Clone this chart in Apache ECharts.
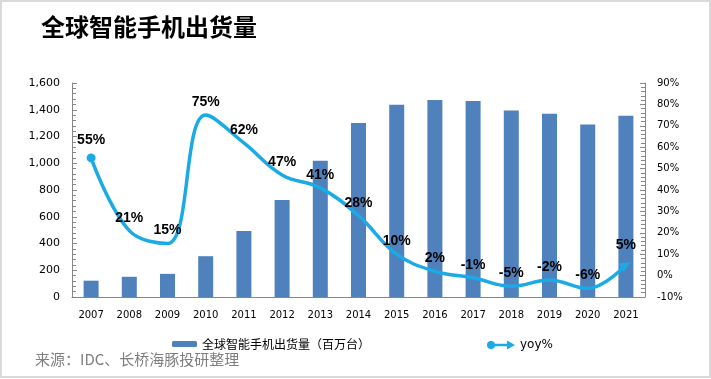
<!DOCTYPE html>
<html>
<head>
<meta charset="utf-8">
<script src="https://cdn.jsdelivr.net/npm/echarts@6/dist/echarts.min.js"></script>
<style>html,body{margin:0;padding:0;background:#fff;}#c{width:711px;height:379px;}</style>
</head>
<body>
<div id="c"></div>
<script>
var years = ['2007','2008','2009','2010','2011','2012','2013','2014','2015','2016','2017','2018','2019','2020','2021'];
var shipments = [122, 151, 173, 305, 494, 725, 1019, 1301, 1437, 1473, 1465, 1395, 1371, 1290, 1355];
var yoy = [55, 21, 15, 75, 62, 47, 41, 28, 10, 2, -1, -5, -2, -6, 5];
var barName = '全球智能手机出货量（百万台）';
var lineName = 'yoy%';
var titleText = '全球智能手机出货量';
var sourceText = '来源：IDC、长桥海豚投研整理';

var lineData = yoy.map(function (v, i) {
  if (i === 0) return { value: v, symbol: 'circle', symbolSize: 9 };
  if (i === yoy.length - 1) return { value: v, symbol: 'triangle', symbolSize: [10, 11], symbolRotate: -60 };
  return { value: v, symbol: 'circle', symbolSize: 0 };
});

var chart = echarts.init(document.getElementById('c'));
var axisColor = '#868686';
var option = {
  animation: false,
  backgroundColor: '#fff',
  textStyle: { fontFamily: 'DejaVu Sans' },
  title: {
    text: titleText, left: 41, top: 15, padding: 0,
    textStyle: { fontFamily: 'Noto Sans CJK SC', fontSize: 24, fontWeight: 'bold', color: '#000' }
  },
  graphic: [
    { type: 'rect', shape: { x: 1, y: 1, width: 709, height: 376 }, style: { fill: 'none', stroke: '#d9d9d9', lineWidth: 2 }, silent: true },
    { type: 'text', left: 35, top: 352, style: { text: sourceText, fontFamily: 'Noto Sans CJK SC', fontSize: 15, fill: '#7f7f7f' } }
  ],
  legend: [
    {
      data: [barName], left: 172, top: 338, itemWidth: 25, itemHeight: 6, padding: 0,
      textStyle: { fontFamily: 'Noto Sans CJK SC', fontSize: 12, color: '#000' }
    },
    {
      data: [{ name: lineName, icon: 'path://M0,5 A4,4 0 1,1 8,5 A4,4 0 1,1 0,5 Z M6,3.8 L20,3.8 L20,0.5 L28,5 L20,9.5 L20,6.2 L6,6.2 Z' }],
      left: 487, top: 339, itemWidth: 28, itemHeight: 10, padding: 0,
      textStyle: { fontFamily: 'DejaVu Sans', fontSize: 12, color: '#000' }
    }
  ],
  grid: { left: 72, right: 66, top: 83, bottom: 82 },
  xAxis: {
    type: 'category', data: years,
    axisLine: { lineStyle: { color: axisColor, width: 1 } },
    axisTick: { show: false },
    axisLabel: { fontSize: 10, color: '#000', margin: 13, interval: 0 }
  },
  yAxis: [
    {
      type: 'value', min: 0, max: 1600, interval: 200,
      axisLine: { show: true, lineStyle: { color: axisColor } },
      axisTick: { show: true, inside: true, length: 5, lineStyle: { color: axisColor } },
      minorTick: { show: true, splitNumber: 5, length: 4, lineStyle: { color: axisColor } },
      splitLine: { show: false },
      axisLabel: { fontSize: 11, color: '#000', margin: 12, formatter: function (v) { return v.toLocaleString('en-US'); } }
    },
    {
      type: 'value', min: -10, max: 90, interval: 10,
      axisLine: { show: true, lineStyle: { color: axisColor } },
      axisTick: { show: true, inside: true, length: 5, lineStyle: { color: axisColor } },
      minorTick: { show: true, splitNumber: 5, length: 4, lineStyle: { color: axisColor } },
      splitLine: { show: false },
      axisLabel: { fontSize: 10, color: '#000', margin: 12, formatter: '{value}%' }
    }
  ],
  series: [
    {
      name: barName, type: 'bar', data: shipments, barWidth: 15, yAxisIndex: 0,
      itemStyle: { color: '#4f81bd' }, z: 2
    },
    {
      name: lineName, type: 'line', data: lineData, yAxisIndex: 1, smooth: 0.4,
      symbol: 'none', showSymbol: true, showAllSymbol: true,
      lineStyle: { color: '#1aabe6', width: 3.5 },
      itemStyle: { color: '#1aabe6' },
      label: {
        show: true, position: 'top', distance: 6,
        formatter: '{c}%', fontFamily: 'Liberation Sans', fontWeight: 'bold', fontSize: 14, color: '#000'
      },
      z: 3
    }
  ]
};
chart.setOption(option);
</script>
</body>
</html>
